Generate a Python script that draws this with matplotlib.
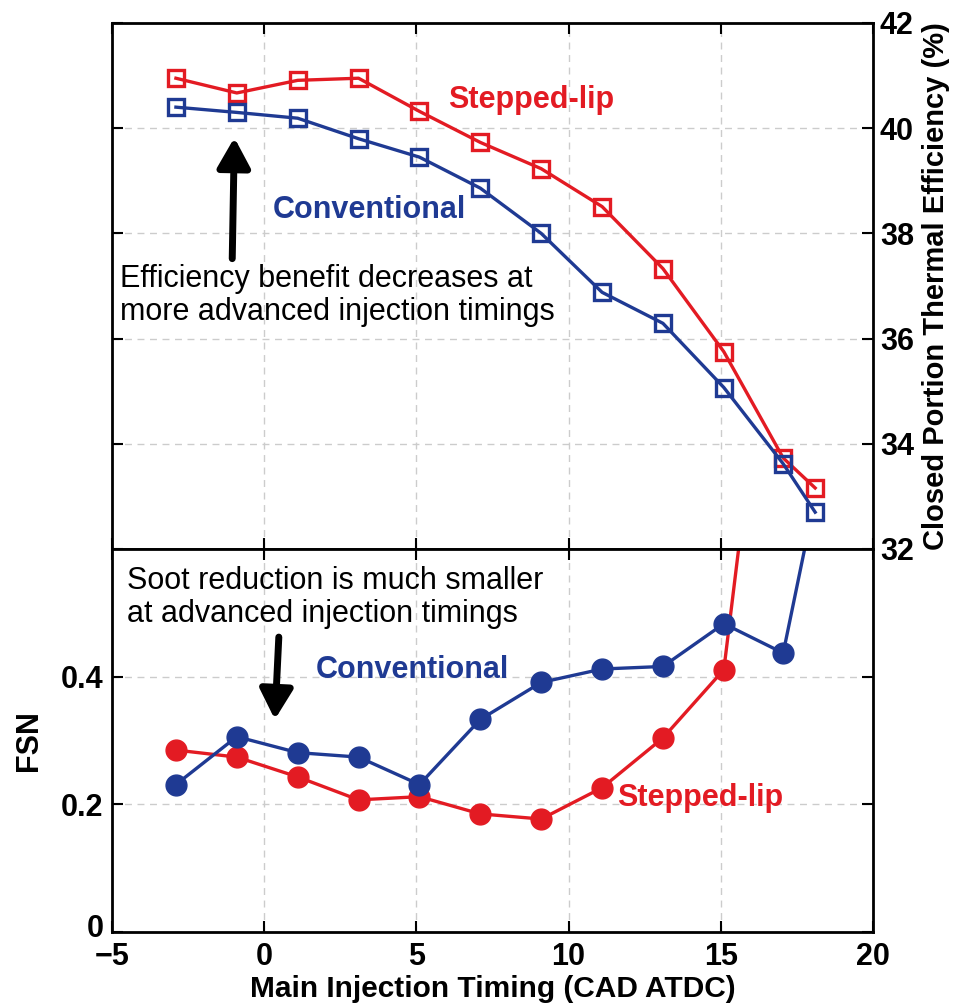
import matplotlib.pyplot as plt
import matplotlib.transforms as mtransforms

plt.rcParams['font.family'] = ['Liberation Sans', 'DejaVu Sans']

# ---------------------------------------
# Data
# ---------------------------------------

timing = [-2.9, -0.9, 1.1, 3.1, 5.1, 7.1, 9.1, 11.1, 13.1, 15.1, 17.05, 18.1]

eff_stepped = [40.95, 40.67, 40.91, 40.95, 40.32, 39.73, 39.23, 38.51,
               37.33, 35.75, 33.73, 33.16]
eff_conv = [40.40, 40.30, 40.19, 39.80, 39.45, 38.86, 38.00, 36.88,
            36.29, 35.07, 33.62, 32.70]

fsn_stepped = [0.285, 0.274, 0.243, 0.207, 0.212, 0.185, 0.177, 0.226,
               0.304, 0.411, 1.17, 1.50]
fsn_conv = [0.231, 0.306, 0.281, 0.274, 0.231, 0.333, 0.391, 0.412,
            0.416, 0.483, 0.437, 0.68]

xticks = [-5, 0, 5, 10, 15, 20]
xtick_labels = ["\u22125", "0", "5", "10", "15", "20"]
eff_ticks = [32, 34, 36, 38, 40, 42]
fsn_ticks = [0, 0.2, 0.4]
fsn_tick_labels = ["0", "0.2", "0.4"]

RED = "#E31B23"
BLUE = "#1F3A93"
FS = 22

# ---------------------------------------
# Figure
# ---------------------------------------

fig = plt.figure(figsize=(9.55, 10.06), dpi=100)

left, width = 112 / 955, (873 - 112) / 955
ax_top = fig.add_axes([left, 1 - 549 / 1006, width, (549 - 23) / 1006])
ax_bot = fig.add_axes([left, 1 - 932 / 1006, width, (932 - 549) / 1006])

grid_kw = dict(color="#cccccc", linestyle=(0, (5, 4)), linewidth=1.0)
arrow_kw = dict(arrowstyle="-|>,head_width=0.5,head_length=0.9",
                color="black", lw=5, shrinkA=0, shrinkB=0, mutation_scale=20)

for ax in (ax_top, ax_bot):
    ax.set_xlim(-5, 20)
    ax.set_xticks(xticks)
    ax.grid(True, **grid_kw)
    ax.set_axisbelow(True)
    for sp in ax.spines.values():
        sp.set_linewidth(2.0)
    ax.tick_params(direction="in", length=8, width=1.5, labelsize=FS,
                   top=True, right=True, left=True, bottom=True)

# ---------------------------------------
# Top: thermal efficiency
# ---------------------------------------

ax_top.plot(timing, eff_stepped, color=RED, lw=2.4, marker="s", ms=11,
            mfc="none", mew=2.4)
ax_top.plot(timing, eff_conv, color=BLUE, lw=2.4, marker="s", ms=11,
            mfc="none", mew=2.4)

ax_top.set_ylim(32, 42)
ax_top.set_yticks(eff_ticks)
ax_top.tick_params(labelbottom=False, labelleft=False, labelright=True,
                   pad=5)
for lab in ax_top.get_yticklabels():
    lab.set_fontweight("bold")
ax_top.yaxis.set_label_position("right")
ax_top.set_ylabel("Closed Portion Thermal Efficiency (%)", fontsize=21,
                  fontweight="bold", labelpad=6)

ax_top.text(6.04, 40.53, "Stepped-lip", color=RED, fontsize=FS,
            fontweight="bold", va="center")
ax_top.text(0.29, 38.44, "Conventional", color=BLUE, fontsize=FS,
            fontweight="bold", va="center")
ax_top.text(-4.75, 36.82,
            "Efficiency benefit decreases at\nmore advanced injection timings",
            fontsize=FS, va="center", linespacing=1.15)
ax_top.annotate("", xy=(-0.98, 39.82), xytext=(-1.05, 37.52),
                arrowprops=arrow_kw)

# ---------------------------------------
# Bottom: FSN
# ---------------------------------------

ax_bot.plot(timing, fsn_stepped, color=RED, lw=2.4, marker="o", ms=15)
ax_bot.plot(timing, fsn_conv, color=BLUE, lw=2.4, marker="o", ms=15)

ax_bot.set_ylim(0, 0.6)
ax_bot.set_yticks(fsn_ticks)
ax_bot.set_yticklabels(fsn_tick_labels)
ax_bot.set_xticklabels(xtick_labels)
for lab in ax_bot.get_yticklabels() + ax_bot.get_xticklabels():
    lab.set_fontweight("bold")
ax_bot.tick_params(axis="x", pad=7)
ax_bot.tick_params(axis="y", pad=6)

# nudge the "0" label up a little so it clears the "-5" below it
zero_lab = ax_bot.get_yticklabels()[0]
zero_lab.set_transform(zero_lab.get_transform() +
                       mtransforms.ScaledTranslation(0, 5 / 72,
                                                     fig.dpi_scale_trans))

ax_bot.set_ylabel("FSN", fontsize=FS, fontweight="bold", labelpad=12)
ax_bot.set_xlabel("Main Injection Timing (CAD ATDC)", fontsize=21.5,
                  fontweight="bold")
ax_bot.xaxis.set_label_coords(0.5, (932 - 975) / 383)

ax_bot.text(-4.5, 0.524,
            "Soot reduction is much smaller\nat advanced injection timings",
            fontsize=FS, va="center", linespacing=1.15)
ax_bot.text(1.7, 0.41, "Conventional", color=BLUE, fontsize=FS,
            fontweight="bold", va="center")
ax_bot.text(11.6, 0.21, "Stepped-lip", color=RED, fontsize=FS,
            fontweight="bold", va="center")
ax_bot.annotate("", xy=(0.35, 0.333), xytext=(0.48, 0.462),
                arrowprops=arrow_kw)

plt.savefig("out.png", dpi=100)
